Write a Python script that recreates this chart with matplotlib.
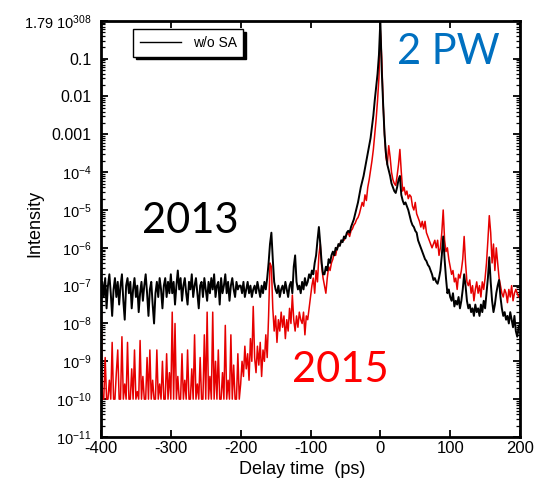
import numpy as np
import matplotlib
matplotlib.use("Agg")
import matplotlib.pyplot as plt
from matplotlib.lines import Line2D

plt.rcParams["font.family"] = ["Liberation Sans", "DejaVu Sans"]
plt.rcParams["mathtext.fontset"] = "custom"
plt.rcParams["mathtext.rm"] = "Liberation Sans"
plt.rcParams["mathtext.it"] = "Liberation Sans:italic"

# delay axis, 2 ps sampling (ps)
delay = np.linspace(-400, 200, 301)

# log10 of intensity, 10 samples (20 ps) per row
black_log = [
    -7.4, -6.9, -7.3, -6.8, -7.6, -7.0, -6.7, -7.2, -7.8, -7.1,
    -6.8, -7.3, -6.9, -7.5, -7.0, -6.7, -7.4, -7.9, -7.0, -6.8,
    -7.2, -6.9, -7.6, -7.1, -6.8, -7.3, -7.0, -7.7, -7.2, -6.9,
    -7.4, -7.0, -6.7, -7.2, -7.8, -7.1, -6.9, -7.5, -8.0, -7.2,
    -6.9, -7.3, -6.8, -7.1, -7.6, -7.0, -6.8, -7.3, -6.9, -7.2,
    -6.7, -7.2, -6.9, -7.5, -7.0, -6.6, -7.1, -6.8, -7.4, -7.0,
    -6.8, -7.2, -7.5, -6.9, -7.1, -6.7, -7.3, -7.0, -6.8, -7.2,
    -7.6, -7.0, -6.9, -7.3, -6.8, -7.1, -7.4, -6.9, -7.2, -6.8,
    -7.1, -6.7, -7.3, -7.0, -6.9, -7.5, -6.8, -7.2, -7.0, -6.7,
    -7.2, -6.9, -7.4, -7.0, -6.8, -7.1, -7.3, -6.9, -7.1, -7.0,
    -7.0, -7.2, -6.9, -7.3, -7.1, -6.9, -7.2, -7.0, -7.3, -7.1,
    -7.0, -7.2, -6.9, -7.1, -7.3, -7.0, -7.2, -6.9, -7.1, -6.8,
    -6.4, -5.9, -5.6, -6.3, -6.9, -7.1, -7.2, -7.0, -7.3, -7.1,
    -7.0, -7.2, -6.9, -7.1, -7.3, -7.0, -6.9, -7.2, -6.5, -6.2,
    -6.9, -7.1, -7.0, -7.2, -6.9, -7.1, -6.8, -7.0, -6.9, -6.7,
    -6.8, -6.6, -6.7, -6.4, -6.2, -5.8, -5.45, -5.9, -6.4, -6.7,
    -6.7, -6.5, -6.6, -6.3, -6.4, -6.2, -6.1, -6.2, -6.0, -6.05,
    -5.9, -5.95, -5.8, -5.85, -5.7, -5.75, -5.6, -5.55, -5.6, -5.45,
    -5.35, -5.25, -5.1, -4.95, -4.8, -4.6, -4.4, -4.25, -4.1, -3.9,
    -3.7, -3.5, -3.3, -3.1, -2.8, -2.5, -2.1, -1.75, -1.4, -0.9,
    0.0, -1.3, -2.2, -3.0, -3.5, -3.8, -3.95, -4.1, -4.3, -4.4,
    -4.5, -4.55, -4.4, -4.2, -4.1, -4.6, -4.75, -4.85, -4.8, -4.9,
    -5.0, -5.15, -5.3, -5.4, -5.45, -5.55, -5.6, -5.8, -5.9, -6.0,
    -6.1, -6.2, -6.3, -6.35, -6.45, -6.5, -6.6, -6.7, -6.85, -6.8,
    -6.9, -6.95, -6.8, -6.6, -6.2, -5.7, -6.3, -6.8, -7.2, -7.1,
    -7.3, -7.4, -7.2, -7.55, -7.4, -7.5, -7.3, -7.6, -7.4, -7.1,
    -6.7, -7.0, -7.4, -7.6, -7.5, -7.7, -7.6, -7.8, -7.5, -7.7,
    -7.6, -7.8, -7.5, -7.7, -7.4, -7.6, -7.2, -6.8, -6.25, -6.9,
    -7.4, -7.7, -7.5, -7.2, -7.0, -6.85, -7.3, -7.6, -7.8, -7.7,
    -7.9, -7.8, -8.0, -7.7, -7.9, -8.1, -7.8, -8.2, -8.35, -8.1,
    -8.0,
]

red_log = [
    -7.0, -10, -10, -8.9, -10, -10, -9.5, -10, -8.5, -10,
    -10, -9.3, -8.7, -10, -10, -8.35, -10, -9.6, -10, -8.5,
    -10, -10, -9.2, -10, -8.7, -10, -9.8, -10, -8.45, -10,
    -9.4, -10, -10, -8.9, -10, -8.7, -10, -9.5, -10, -10,
    -8.7, -10, -9.6, -10, -9.0, -10, -10, -8.8, -10, -9.3,
    -10, -7.7, -10, -8.0, -10, -9.4, -10, -10, -8.8, -10,
    -9.5, -10, -8.7, -10, -10, -9.2, -10, -8.3, -10, -9.6,
    -10, -8.9, -10, -10, -8.3, -10, -7.7, -10, -9.4, -10,
    -7.7, -10, -9.0, -10, -8.7, -10, -10, -9.3, -10, -8.05,
    -10, -9.5, -10, -8.3, -10, -9.1, -10, -10, -8.8, -10,
    -9.6, -9.0, -9.4, -8.6, -9.2, -8.8, -9.5, -8.4, -9.0, -7.55,
    -8.9, -9.3, -8.6, -9.1, -8.5, -9.4, -8.7, -9.0, -8.3, -8.9,
    -7.8, -6.4, -6.5, -7.6, -8.2, -7.8, -8.5, -7.9, -8.2, -7.7,
    -8.1, -7.8, -8.4, -7.9, -8.2, -7.6, -8.0, -7.25, -7.9, -8.2,
    -7.8, -8.1, -7.7, -7.9, -8.0, -7.7, -8.3, -7.8, -7.9, -7.6,
    -7.3, -7.0, -6.8, -7.2, -6.6, -6.9, -6.2, -5.9, -6.5, -6.8,
    -7.0, -7.2, -6.8, -6.5, -6.6, -6.4, -6.3, -6.1, -6.2, -6.0,
    -5.95, -5.9, -5.85, -5.8, -5.8, -5.7, -5.65, -5.6, -5.7, -5.55,
    -5.5, -5.4, -5.35, -5.25, -5.2, -5.1, -4.95, -4.8, -4.9, -4.6,
    -4.75, -4.4, -4.2, -3.95, -3.7, -3.4, -3.0, -2.6, -2.1, -1.5,
    -0.25, -1.0, -2.2, -3.0, -3.6, -3.8, -3.3, -3.6, -4.0, -4.2,
    -4.3, -4.35, -4.1, -3.8, -3.4, -4.0, -4.5, -4.4, -4.6, -4.5,
    -4.7, -4.6, -4.65, -4.9, -5.0, -4.8, -5.1, -5.2, -5.3, -5.45,
    -5.3, -5.5, -5.3, -5.6, -5.7, -5.8, -5.9, -6.0, -5.9, -5.8,
    -6.0, -5.8, -6.2, -6.0, -5.6, -5.0, -5.8, -6.1, -6.0, -6.3,
    -6.5, -6.7, -6.6, -6.9, -6.8, -7.1, -6.7, -6.8, -6.6, -6.3,
    -5.7, -6.4, -6.9, -7.0, -6.85, -7.2, -7.0, -7.4, -7.1, -6.9,
    -7.2, -7.0, -7.3, -6.9, -7.1, -6.8, -6.4, -5.8, -5.15, -5.6,
    -6.4, -5.9, -6.6, -6.0, -6.4, -6.8, -7.0, -7.2, -7.3, -7.1,
    -7.2, -7.45, -7.1, -7.3, -7.0, -7.4, -7.2, -7.1, -7.2, -7.3,
    -7.25,
]

x_ticks = [-400, -300, -200, -100, 0, 100, 200]
y_ticks = [10.0 ** k for k in range(0, -12, -1)]
y_tick_labels = [r"1.79 $\mathregular{10^{308}}$", "0.1", "0.01", "0.001"] + \
    [r"$\mathregular{10^{%d}}$" % k for k in range(-4, -12, -1)]

fig = plt.figure(figsize=(5.4, 4.96), dpi=100)
ax = fig.add_axes([0.187, 0.119, 0.776, 0.839])

ax.plot(delay, 10.0 ** np.array(red_log), color="#e60000", lw=1.1)
ax.plot(delay, 10.0 ** np.array(black_log), color="black", lw=1.4)

ax.set_yscale("log")
ax.set_xlim(-400, 200)
ax.set_ylim(1e-11, 1)
ax.set_xticks(x_ticks)
ax.set_xticklabels([str(v) for v in x_ticks], fontsize=12)
ax.xaxis.set_minor_locator(matplotlib.ticker.NullLocator())
ax.set_yticks(y_ticks)
ax.set_yticklabels(y_tick_labels)
for i, lab in enumerate(ax.get_yticklabels()):
    lab.set_fontsize(11.5 if 1 <= i <= 3 else 10.5)
ax.yaxis.set_minor_locator(matplotlib.ticker.LogLocator(base=10, subs=np.arange(2, 10), numticks=20))
ax.yaxis.set_minor_formatter(matplotlib.ticker.NullFormatter())

ax.tick_params(which="both", direction="in", top=True, right=True)
ax.tick_params(which="major", length=5, width=1.3)
ax.tick_params(which="minor", length=3, width=0.9)
ax.tick_params(axis="y", pad=7)
ax.tick_params(axis="x", pad=3)
for sp in ax.spines.values():
    sp.set_linewidth(2)

ax.set_xlabel("Delay time  (ps)", fontsize=13)
ax.xaxis.set_label_coords(0.48, -0.058)
ax.set_ylabel("Intensity", fontsize=13)
ax.yaxis.set_label_coords(-0.137, 0.514)

handle = Line2D([], [], color="black", lw=1.0)
leg = ax.legend([handle], ["w/o SA"], loc="upper left", bbox_to_anchor=(0.076, 0.981),
                borderaxespad=0, fancybox=False, edgecolor="black", fontsize=10,
                handlelength=3.0, borderpad=0.5, framealpha=1,
                shadow={"color": "black", "alpha": 1})
leg.get_frame().set_linewidth(1.0)

fig.text(0.352, 0.554, "2013", fontsize=30, family="Lato", color="black", ha="center", va="center")
fig.text(0.630, 0.254, "2015", fontsize=30, family="Lato", color="#ff0000", ha="center", va="center")
fig.text(0.831, 0.895, "2 PW", fontsize=30, family="Lato", color="#0070c0", ha="center", va="center")

fig.savefig("out.png", dpi=100)
